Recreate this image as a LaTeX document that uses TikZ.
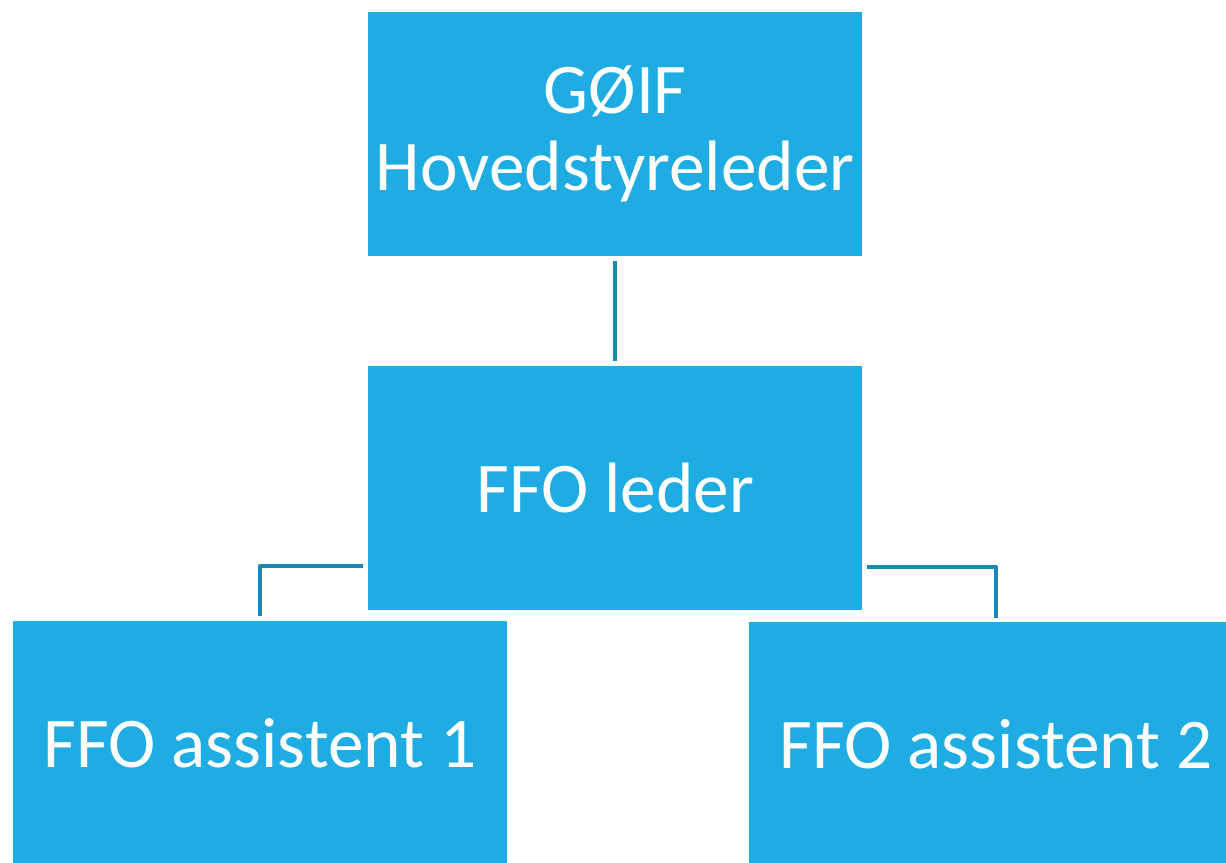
\documentclass[tikz,border=0pt]{standalone}
\usepackage{fontspec}
\setmainfont{Carlito}
\definecolor{boxblue}{RGB}{31,172,227}
\definecolor{lineblue}{RGB}{26,136,180}
\begin{document}
\begin{tikzpicture}[x=1pt,y=-1pt,
  orgbox/.style={rectangle, fill=boxblue, draw=none, minimum width=494pt, minimum height=244pt,
    inner sep=0pt, anchor=north west, text=white, align=center,
    font=\fontsize{71.3}{77}\selectfont},
  conn/.style={draw=lineblue, line width=3.6pt, line join=round}]
\useasboundingbox (0,0) rectangle (1226,862);
\clip (0,0) rectangle (1226,862);
\node[orgbox] (top) at (368,12) {GØIF\\Hovedstyreleder};
\node[orgbox] (mid) at (368,366) {FFO leder};
\node[orgbox] (a1) at (13,621) {FFO assistent 1};
\node[orgbox] (a2) at (749,622) {FFO assistent 2};
\draw[conn, shorten <=5pt, shorten >=5pt] (top.south) -- (mid.north);
\draw[conn] ([xshift=-5pt,yshift=-78pt]mid.west) -| ([yshift=5pt]a1.north);
\draw[conn] ([xshift=5pt,yshift=-79pt]mid.east) -| ([yshift=4pt]a2.north);
\end{tikzpicture}
\end{document}
